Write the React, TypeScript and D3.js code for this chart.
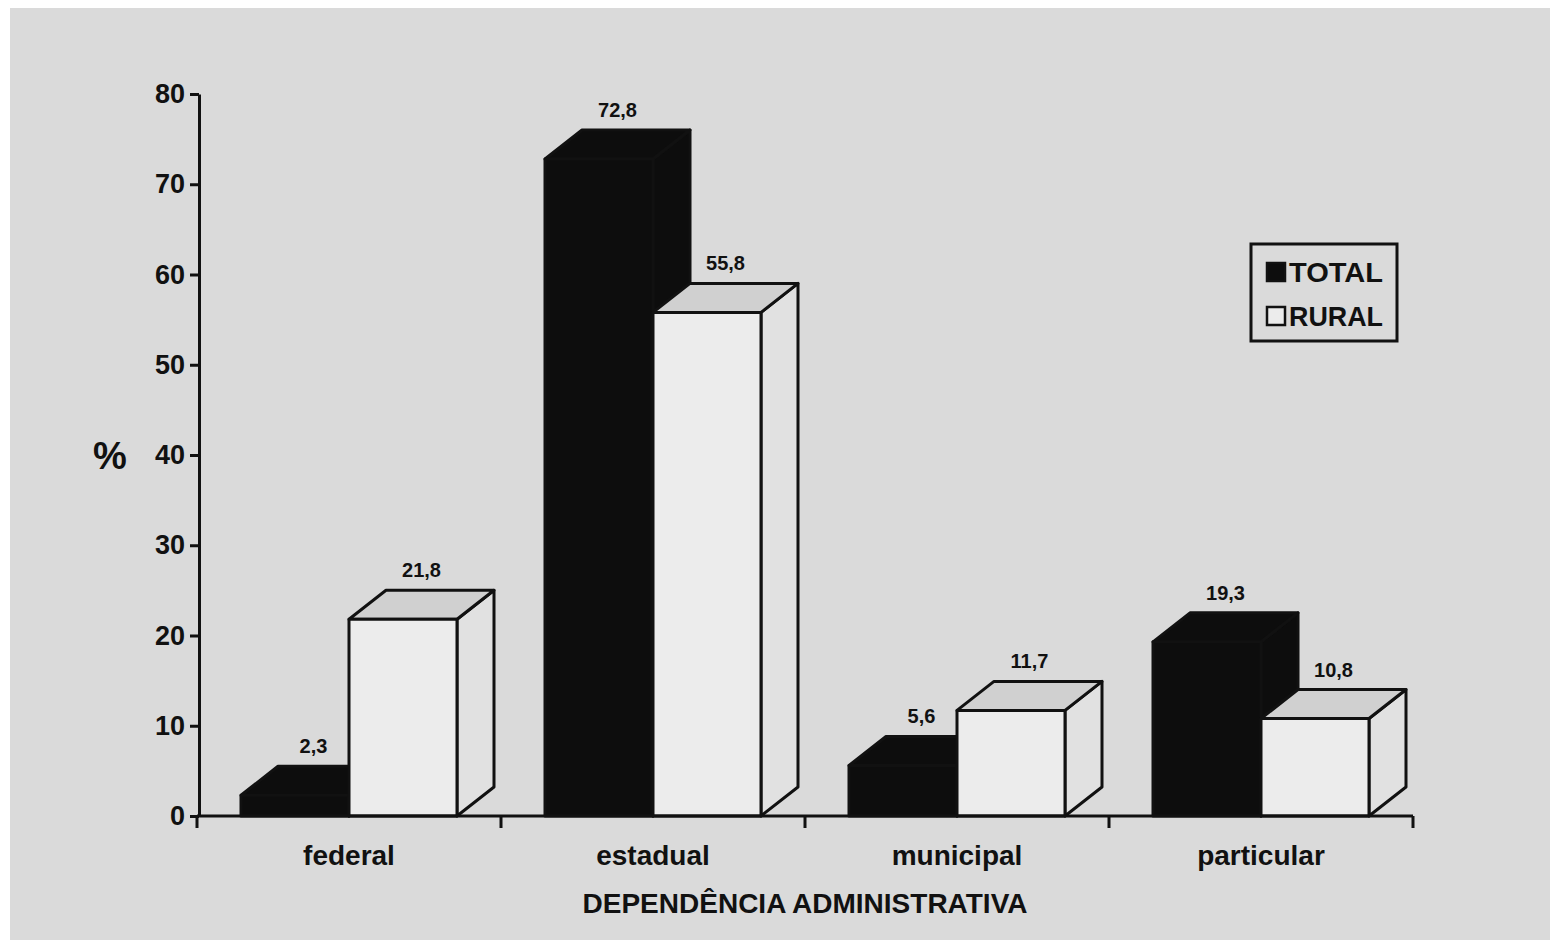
import { useEffect, useRef } from "react";
import * as d3 from "d3";

const categories = ["federal", "estadual", "municipal", "particular"];
const totalValues = [2.3, 72.8, 5.6, 19.3];
const ruralValues = [21.8, 55.8, 11.7, 10.8];
const yTicks = [0, 10, 20, 30, 40, 50, 60, 70, 80];
const seriesNames = ["TOTAL", "RURAL"];

const W = 1553;
const H = 945;
const FONT = "'Liberation Sans', Arial, sans-serif";

export default function App() {
    const svgRef = useRef<SVGSVGElement | null>(null);

    useEffect(() => {
        const svg = d3.select(svgRef.current!).attr("width", W).attr("height", H);
        svg.selectAll("*").remove();

        // scanned-page look: white border, grey paper
        svg.append("rect").attr("width", W).attr("height", H).attr("fill", "#ffffff");
        svg.append("rect")
            .attr("x", 10).attr("y", 8)
            .attr("width", 1540).attr("height", 932)
            .attr("fill", "#dadada");

        const x = d3.scaleBand<string>().domain(categories).range([197, 1413]).padding(0);
        const y = d3.scaleLinear().domain([0, 80]).range([816, 94]);

        const bw = 108; // front face width
        const dx = 37;  // depth offset
        const dy = 29;

        // Y axis
        const yAxis = svg.append("g")
            .attr("transform", "translate(199,0)")
            .call(
                d3.axisLeft(y)
                    .tickValues(yTicks)
                    .tickSize(9)
                    .tickPadding(5)
                    .tickSizeOuter(0)
            );
        yAxis.select(".domain").attr("stroke", "#111").attr("stroke-width", 3);
        yAxis.selectAll(".tick line").attr("stroke", "#111").attr("stroke-width", 3);
        yAxis.selectAll(".tick text")
            .attr("fill", "#111")
            .style("font-family", FONT)
            .style("font-weight", "bold")
            .style("font-size", "27px");

        // % label
        svg.append("text")
            .attr("x", 110).attr("y", 456)
            .attr("text-anchor", "middle")
            .attr("dominant-baseline", "central")
            .style("font-family", FONT)
            .style("font-weight", "bold")
            .style("font-size", "38px")
            .attr("fill", "#111")
            .text("%");

        // 3D bar helper
        const drawBar = (x0: number, v: number, front: string, top: string, side: string) => {
            const yv = y(v);
            const y0 = y(0);
            const g = svg.append("g")
                .attr("stroke", "#111")
                .attr("stroke-width", 3)
                .attr("stroke-linejoin", "round");
            g.append("path")
                .attr("d", `M${x0 + bw},${yv}L${x0 + bw + dx},${yv - dy}L${x0 + bw + dx},${y0 - dy}L${x0 + bw},${y0}Z`)
                .attr("fill", side);
            g.append("path")
                .attr("d", `M${x0},${yv}L${x0 + dx},${yv - dy}L${x0 + bw + dx},${yv - dy}L${x0 + bw},${yv}Z`)
                .attr("fill", top);
            g.append("rect")
                .attr("x", x0).attr("y", yv)
                .attr("width", bw).attr("height", y0 - yv)
                .attr("fill", front);
        };

        const label = (cx: number, v: number) => {
            svg.append("text")
                .attr("x", cx)
                .attr("y", y(v) - dy - 20)
                .attr("text-anchor", "middle")
                .attr("dominant-baseline", "central")
                .style("font-family", FONT)
                .style("font-weight", "bold")
                .style("font-size", "20px")
                .attr("fill", "#111")
                .text(String(v).replace(".", ","));
        };

        categories.forEach((c, i) => {
            const center = x(c)! + x.bandwidth() / 2;
            const bx = center - bw;
            drawBar(bx, totalValues[i], "#0d0d0d", "#0d0d0d", "#0d0d0d");
            drawBar(center, ruralValues[i], "#ececec", "#d0d0d0", "#e1e1e1");
            label(bx + (bw + dx) / 2, totalValues[i]);
            label(center + (bw + dx) / 2, ruralValues[i]);

            svg.append("text")
                .attr("x", center)
                .attr("y", 855)
                .attr("text-anchor", "middle")
                .attr("dominant-baseline", "central")
                .style("font-family", FONT)
                .style("font-weight", "bold")
                .style("font-size", "28px")
                .attr("fill", "#111")
                .text(c);
        });

        // X axis with ticks at band edges
        const xg = svg.append("g").attr("stroke", "#111").attr("stroke-width", 3);
        xg.append("line")
            .attr("x1", x.range()[0]).attr("x2", x.range()[1])
            .attr("y1", y(0)).attr("y2", y(0));
        const edges = categories.map((c) => x(c)!).concat([x.range()[1]]);
        xg.selectAll("line.tick")
            .data(edges)
            .enter()
            .append("line")
            .attr("class", "tick")
            .attr("x1", (d) => d).attr("x2", (d) => d)
            .attr("y1", y(0)).attr("y2", y(0) + 12);

        svg.append("text")
            .attr("x", 805).attr("y", 903)
            .attr("text-anchor", "middle")
            .attr("dominant-baseline", "central")
            .style("font-family", FONT)
            .style("font-weight", "bold")
            .style("font-size", "28px")
            .attr("fill", "#111")
            .text("DEPENDÊNCIA ADMINISTRATIVA");

        // Legend
        const lg = svg.append("g").attr("transform", "translate(1251,244)");
        lg.append("rect")
            .attr("width", 146).attr("height", 97)
            .attr("fill", "none")
            .attr("stroke", "#111")
            .attr("stroke-width", 3);
        seriesNames.forEach((s, i) => {
            const yy = 28 + i * 44;
            lg.append("rect")
                .attr("x", 16).attr("y", yy - 9)
                .attr("width", 18).attr("height", 18)
                .attr("fill", i === 0 ? "#0d0d0d" : "#ececec")
                .attr("stroke", "#111")
                .attr("stroke-width", 2.5);
            lg.append("text")
                .attr("x", 38).attr("y", yy)
                .attr("dominant-baseline", "central")
                .style("font-family", FONT)
                .style("font-weight", "bold")
                .style("font-size", "28px")
                .attr("textLength", 94)
                .attr("lengthAdjust", "spacingAndGlyphs")
                .attr("fill", "#111")
                .text(s);
        });
    }, []);

    return <svg ref={svgRef} style={{ position: "absolute", left: 0, top: 0, display: "block" }} />;
}
